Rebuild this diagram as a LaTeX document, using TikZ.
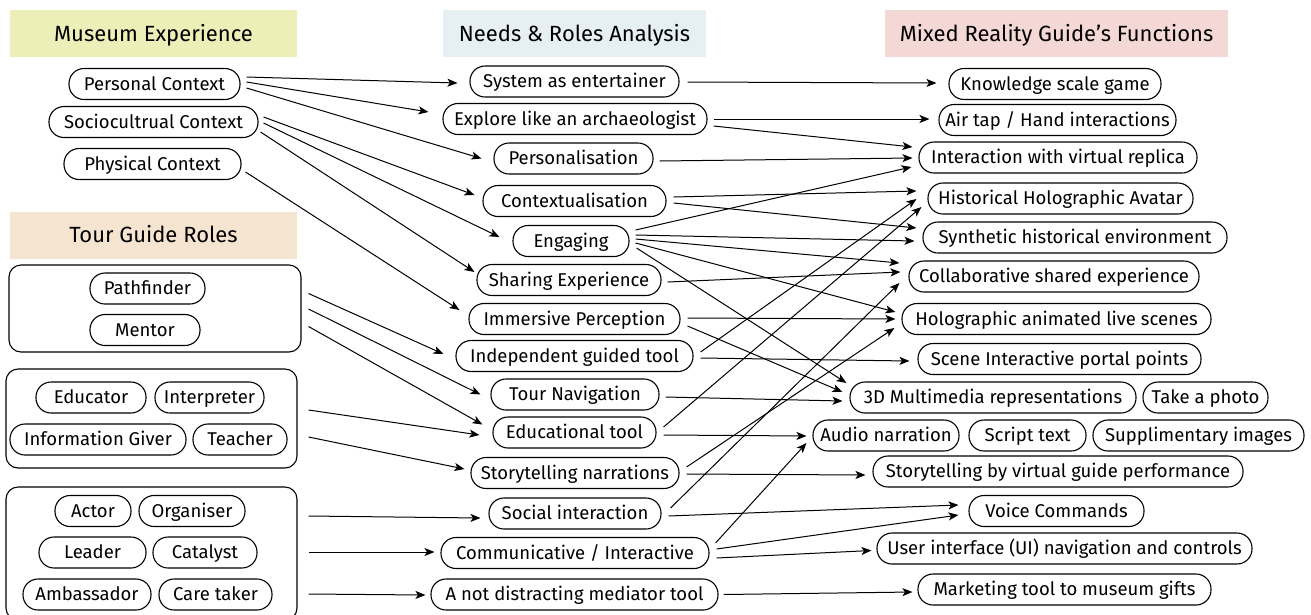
\documentclass[tikz,border=0pt]{standalone}
\usepackage{fontspec}
\setmainfont{Fira Sans}
\usetikzlibrary{calc,arrows.meta}

\definecolor{hdrmuseum}{RGB}{236,240,184}
\definecolor{hdrneeds}{RGB}{230,240,243}
\definecolor{hdrmixed}{RGB}{243,216,213}
\definecolor{hdrtour}{RGB}{245,229,208}

\tikzset{
  pill/.style={draw, line width=1.1pt, rounded corners=15pt, minimum height=31pt,
    inner sep=0pt, text height=16.5pt, text depth=4pt,
    font=\fontsize{18.5}{21}\selectfont},
  hdr/.style={minimum height=47pt, inner sep=0pt, text height=20pt, text depth=5pt,
    font=\fontsize{22}{26}\selectfont},
  grp/.style={draw, line width=1.1pt, rounded corners=12pt, inner sep=0pt},
  arr/.style={-{Stealth[length=10pt,width=8pt,inset=2.5pt]}, line width=1pt}
}

% connector: from a point near the east side of #1 to a point near the west side of #4
\newcommand\linkarrow[6]{\draw[arr] ($(#1.east)+(#2,#3)$) -- ($(#4.west)+(#5,#6)$);}

\begin{document}
\begin{tikzpicture}[x=1pt,y=-1pt]
\useasboundingbox (0,0) rectangle (1311,614);
\clip (0,0) rectangle (1311,614);
\fill[white] (0,0) rectangle (1311,614);

% column headers
\node[hdr, fill=hdrmuseum, minimum width=287pt] (hm) at (153.5,33.5) {Museum Experience};
\node[hdr, fill=hdrneeds, minimum width=263pt] (hn) at (574.5,33.5) {Needs \& Roles Analysis};
\node[hdr, fill=hdrmixed, minimum width=343pt] (hx) at (1056.5,33.5) {Mixed Reality Guide’s Functions};
\node[hdr, fill=hdrtour, minimum width=287pt] (ht) at (153.5,235) {Tour Guide Roles};

% museum experience contexts
\node[pill, minimum width=171pt] (pc) at (154.5,84) {Personal Context};
\node[pill, minimum width=209pt] (sc) at (153.5,122) {Sociocultrual Context};
\node[pill, minimum width=177pt] (phc) at (152.5,164) {Physical Context};

% tour guide role groups
\node[grp, minimum width=292pt, minimum height=87pt] (g1) at (155,308.5) {};
\node[grp, minimum width=291pt, minimum height=99pt] (g2) at (151.5,418.5) {};
\node[grp, minimum width=291pt, minimum height=133pt] (g3) at (151.5,553.5) {};

\node[pill, minimum width=115pt] (r1) at (147.5,288.5) {Pathfinder};
\node[pill, minimum width=110pt] (r2) at (145,330) {Mentor};
\node[pill, minimum width=110pt] (r3) at (91,397.5) {Educator};
\node[pill, minimum width=109pt] (r4) at (209.5,397.5) {Interpreter};
\node[pill, minimum width=176pt] (r5) at (98,439.5) {Information Giver};
\node[pill, minimum width=94pt] (r6) at (240,439.5) {Teacher};
\node[pill, minimum width=76pt] (r7) at (93,511) {Actor};
\node[pill, minimum width=106pt] (r8) at (192,511) {Organiser};
\node[pill, minimum width=107pt] (r9) at (92.5,552.5) {Leader};
\node[pill, minimum width=104pt] (r10) at (205,552.5) {Catalyst};
\node[pill, minimum width=128pt] (r11) at (87,594.5) {Ambassador};
\node[pill, minimum width=113pt] (r12) at (215.5,594.5) {Care taker};

% needs and roles
\node[pill, minimum width=209pt] (se) at (574.5,81.5) {System as entertainer};
\node[pill, minimum width=264pt] (ea) at (575,119) {Explore like an archaeologist};
\node[pill, minimum width=159pt] (pe) at (573.5,158.5) {Personalisation};
\node[pill, minimum width=183pt] (co) at (574.5,201) {Contextualisation};
\node[pill, minimum width=116pt] (en) at (571,241) {Engaging};
\node[pill, minimum width=184pt] (sh) at (569,280) {Sharing Experience};
\node[pill, minimum width=211pt] (im) at (574.5,319) {Immersive Perception};
\node[pill, minimum width=237pt] (ig) at (574.5,356) {Independent guided tool};
\node[pill, minimum width=168pt] (tn) at (575,394.5) {Tour Navigation};
\node[pill, minimum width=163pt] (et) at (574.5,432.5) {Educational tool};
\node[pill, minimum width=208pt] (sn) at (575,473) {Storytelling narrations};
\node[pill, minimum width=172pt] (si) at (575,513.5) {Social interaction};
\node[pill, minimum width=268pt] (ci) at (575,553) {Communicative / Interactive};
\node[pill, minimum width=287pt] (nd) at (574.5,594.5) {A not distracting mediator tool};

% mixed reality guide functions
\node[pill, minimum width=212pt] (ks) at (1055,84) {Knowledge scale game};
\node[pill, minimum width=237pt] (at) at (1057.5,120) {Air tap / Hand interactions};
\node[pill, minimum width=278pt] (ir) at (1058,157.5) {Interaction with virtual replica};
\node[pill, minimum width=265pt] (ha) at (1060.5,198.5) {Historical Holographic Avatar};
\node[pill, minimum width=304pt] (sy) at (1075,237.5) {Synthetic historical environment};
\node[pill, minimum width=290pt] (cs) at (1054,276.5) {Collaborative shared experience};
\node[pill, minimum width=309pt] (hl) at (1056.5,319) {Holographic animated live scenes};
\node[pill, minimum width=283pt] (sp) at (1059.5,359) {Scene Interactive portal points};
\node[pill, minimum width=286pt] (md) at (993,397.5) {3D Multimedia representations};
\node[pill, minimum width=125pt] (tp) at (1205.5,397.5) {Take a photo};
\node[pill, minimum width=146pt] (an) at (886,435.5) {Audio narration};
\node[pill, minimum width=117pt] (st) at (1027.5,435.5) {Script text};
\node[pill, minimum width=211pt] (smi) at (1198.5,435.5) {Supplimentary images};
\node[pill, minimum width=370pt] (sv) at (1058,471.5) {Storytelling by virtual guide performance};
\node[pill, minimum width=175pt] (vc) at (1056.5,511) {Voice Commands};
\node[pill, minimum width=375pt] (ui) at (1064.5,548.5) {User interface (UI) navigation and controls};
\node[pill, minimum width=293pt] (mt) at (1064.5,589.5) {Marketing tool to museum gifts};

% museum experience -> needs
\linkarrow{pc}{6}{-7}{se}{-12}{1.5}
\linkarrow{pc}{6}{-2}{ea}{-14}{-7}
\linkarrow{pc}{6}{4}{pe}{-12}{0}
\linkarrow{sc}{5}{-5}{co}{-8}{-6}
\linkarrow{sc}{5}{1}{en}{-13}{-4}
\linkarrow{sc}{2}{10}{sh}{-2}{-8}
\linkarrow{phc}{4}{8}{im}{-9}{-9}

% tour guide roles -> needs
\linkarrow{g1}{7}{-15}{ig}{-12}{-2}
\linkarrow{g1}{7}{0.5}{tn}{-10}{0}
\linkarrow{g1}{7}{18}{et}{-10}{-8}
\linkarrow{g2}{11}{-8.5}{et}{-13}{2.5}
\linkarrow{g2}{11}{18.5}{sn}{-6}{-4}
\linkarrow{g3}{11}{-37.5}{si}{-8}{4.5}
\linkarrow{g3}{11}{-1.5}{ci}{-6}{-1}
\linkarrow{g3}{11}{40.5}{nd}{-5}{0.5}

% needs -> mixed reality functions
\linkarrow{se}{8}{0.5}{ks}{-12}{-1}
\linkarrow{ea}{6}{0}{at}{-9}{-1}
\linkarrow{ea}{6}{7}{ir}{-6}{-10.5}
\linkarrow{pe}{6}{2.5}{ir}{-6}{0.5}
\linkarrow{en}{6}{-11}{ir}{-7}{9.5}
\linkarrow{co}{7}{-4}{ha}{-11}{-7.5}
\linkarrow{co}{7}{2}{sy}{-6}{-9.5}
\linkarrow{en}{6}{-6}{sy}{-8}{3.5}
\linkarrow{en}{6}{-2}{cs}{-9}{-13.5}
\linkarrow{en}{6}{2}{hl}{-6}{-7}
\linkarrow{en}{7}{7}{md}{-3}{-14.5}
\linkarrow{sh}{6}{2}{cs}{-8}{-4.5}
\linkarrow{im}{7}{-1}{hl}{-6}{0}
\linkarrow{im}{7}{7}{md}{-7}{-5.5}
\linkarrow{ig}{7}{-4}{ha}{-11}{0.5}
\linkarrow{ig}{7}{2}{sp}{-8}{2}
\linkarrow{tn}{6}{2.5}{md}{-7}{3.5}
\linkarrow{et}{7}{-5.5}{ha}{-6}{8.5}
\linkarrow{et}{7}{2.5}{an}{-6}{0.5}
\linkarrow{sn}{7}{-6}{hl}{-7}{9}
\linkarrow{sn}{7}{1}{sv}{-7}{3.5}
\linkarrow{si}{9}{-5.5}{cs}{-9}{6.5}
\linkarrow{si}{7}{2.5}{vc}{-10}{-6}
\linkarrow{ci}{6}{-10}{an}{-6}{7.5}
\linkarrow{ci}{7}{-4}{vc}{-10}{4}
\linkarrow{ci}{7}{5}{ui}{-5}{2}
\linkarrow{nd}{5}{0}{mt}{-5}{2.5}
\end{tikzpicture}
\end{document}
